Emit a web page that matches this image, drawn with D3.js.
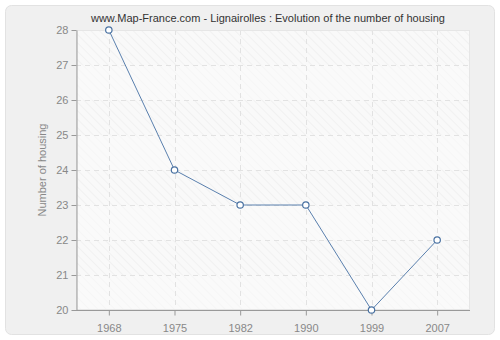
<!DOCTYPE html>
<html>
<head>
<meta charset="utf-8">
<script src="https://cdn.jsdelivr.net/npm/d3@7"></script>
<style>
  body { margin: 0; background: #fff; }
  svg { display: block; font-family: "Liberation Sans", Arial, sans-serif; }
</style>
</head>
<body>
<svg id="chart" width="500" height="340"></svg>
<script>
const years = ["1968", "1975", "1982", "1990", "1999", "2007"];
const housing = [28, 24, 23, 23, 20, 22];
const yTicks = [20, 21, 22, 23, 24, 25, 26, 27, 28];

const svg = d3.select("#chart");
const margin = { top: 30, right: 30, bottom: 30, left: 76 };
const width = 500, height = 340;

// outer panel
svg.append("rect")
  .attr("x", 0).attr("y", 0).attr("width", width).attr("height", height)
  .attr("fill", "#ffffff");
svg.append("rect")
  .attr("x", 5.5).attr("y", 5.5).attr("width", 489).attr("height", 329)
  .attr("rx", 6).attr("fill", "#f0f0f0").attr("stroke", "#e2e2e2");

const defs = svg.append("defs");
const pat = defs.append("pattern")
  .attr("id", "hatch").attr("patternUnits", "userSpaceOnUse")
  .attr("width", 6).attr("height", 6)
  .attr("patternTransform", "rotate(-45)");
pat.append("rect").attr("width", 6).attr("height", 6).attr("fill", "#f9f9f9");
pat.append("line").attr("x1", 0).attr("y1", 0).attr("x2", 0).attr("y2", 6)
  .attr("stroke", "#ececec").attr("stroke-width", 1.2);

const pat2 = defs.append("pattern")
  .attr("id", "hatch2").attr("patternUnits", "userSpaceOnUse")
  .attr("width", 6).attr("height", 6)
  .attr("patternTransform", "rotate(-45)");
pat2.append("rect").attr("width", 6).attr("height", 6).attr("fill", "#fafafa");
pat2.append("line").attr("x1", 0).attr("y1", 0).attr("x2", 0).attr("y2", 6)
  .attr("stroke", "#f3f3f3").attr("stroke-width", 1);

const x = d3.scalePoint()
  .domain(years)
  .range([margin.left, width - margin.right])
  .padding(0.5);

const y = d3.scaleLinear()
  .domain([20, 28])
  .range([height - margin.bottom, margin.top]);

// plot background bands
svg.append("g")
  .selectAll("rect")
  .data(yTicks.slice(0, -1))
  .join("rect")
  .attr("x", margin.left)
  .attr("y", d => y(d + 1))
  .attr("width", width - margin.right - margin.left)
  .attr("height", d => y(d) - y(d + 1))
  .attr("fill", d => d % 2 === 1 ? "url(#hatch)" : "url(#hatch2)");

// grid
const grid = svg.append("g")
  .attr("stroke", "#e2e2e2")
  .attr("stroke-dasharray", "5,4");
grid.selectAll(".gy")
  .data(yTicks.slice(1))
  .join("line")
  .attr("x1", margin.left).attr("x2", width - margin.right)
  .attr("y1", d => Math.round(y(d)) + 0.5).attr("y2", d => Math.round(y(d)) + 0.5);
grid.selectAll(".gx")
  .data(years)
  .join("line")
  .attr("x1", d => Math.round(x(d)) + 0.5).attr("x2", d => Math.round(x(d)) + 0.5)
  .attr("y1", margin.top).attr("y2", height - margin.bottom);

// right/top frame
svg.append("rect")
  .attr("x", margin.left + 0.5).attr("y", margin.top + 0.5)
  .attr("width", width - margin.right - margin.left - 1)
  .attr("height", height - margin.bottom - margin.top - 1)
  .attr("fill", "none").attr("stroke", "#e6e6e6");

// axes
const xAxis = svg.append("g")
  .attr("transform", `translate(0,${height - margin.bottom + 0.5})`)
  .call(d3.axisBottom(x).tickSize(5).tickSizeOuter(0));
xAxis.select(".domain").attr("d", `M${margin.left},0H${width - margin.right}`);

const yAxis = svg.append("g")
  .attr("transform", `translate(${margin.left + 0.5},0)`)
  .call(d3.axisLeft(y).tickValues(yTicks).tickFormat(d3.format("d")).tickSize(5).tickSizeOuter(0));

[xAxis, yAxis].forEach(a => {
  a.select(".domain").attr("stroke", "#999");
  a.selectAll(".tick line").attr("stroke", "#999");
  a.selectAll(".tick text").attr("fill", "#888").style("font-size", "11px")
    .style("font-family", "'Liberation Sans', Arial, sans-serif");
});
xAxis.selectAll(".tick text").attr("dy", "1.2em");

// y title
svg.append("text")
  .attr("transform", `translate(46,${(margin.top + height - margin.bottom) / 2}) rotate(-90)`)
  .attr("text-anchor", "middle")
  .attr("fill", "#888")
  .style("font-size", "11px")
  .text("Number of housing");

// title
svg.append("text")
  .attr("x", 268).attr("y", 22)
  .attr("text-anchor", "middle")
  .attr("fill", "#333")
  .style("font-size", "11px")
  .text("www.Map-France.com - Lignairolles : Evolution of the number of housing");

// line
const line = d3.line()
  .x((d, i) => x(years[i]))
  .y(d => y(d));
svg.append("path")
  .datum(housing)
  .attr("d", line)
  .attr("fill", "none")
  .attr("stroke", "#5a80ae")
  .attr("stroke-width", 1);

svg.append("g")
  .selectAll("circle")
  .data(housing)
  .join("circle")
  .attr("cx", (d, i) => x(years[i]))
  .attr("cy", d => y(d))
  .attr("r", 3.2)
  .attr("fill", "#fff")
  .attr("stroke", "#4a72a2")
  .attr("stroke-width", 1.2);
</script>
</body>
</html>
